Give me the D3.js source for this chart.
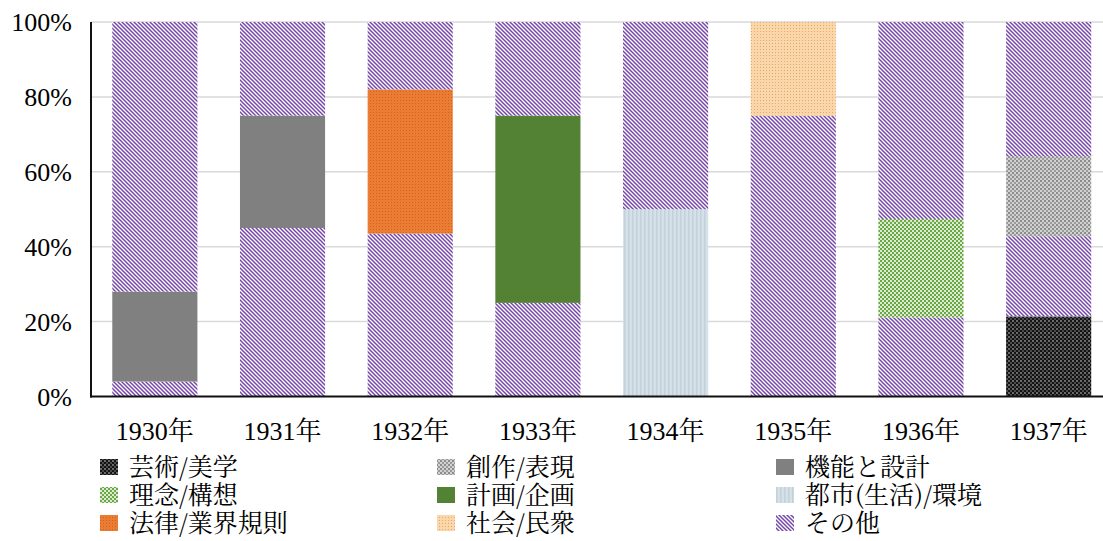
<!DOCTYPE html>
<html>
<head>
<meta charset="utf-8">
<script src="https://cdn.jsdelivr.net/npm/d3@7"></script>
</head>
<body style="margin:0">
<svg id="chart" width="1103" height="541"></svg>
<script>
// Years on the category axis
const years = ["1930年", "1931年", "1932年", "1933年", "1934年", "1935年", "1936年", "1937年"];

// Share of each theme per year (%), in stacking order (bottom to top)
const art      = [0, 0, 0, 0, 0, 0, 0, 21.4];      // 芸術/美学
const urban    = [0, 0, 0, 0, 50, 0, 0, 0];        // 都市(生活)/環境
const otherLow = [4, 45, 43.5, 25, 0, 75, 21.1, 21.4]; // その他 (lower part)
const creation = [0, 0, 0, 0, 0, 0, 0, 21.4];      // 創作/表現
const func     = [24, 30, 0, 0, 0, 0, 0, 0];       // 機能と設計
const idea     = [0, 0, 0, 0, 0, 0, 26.3, 0];      // 理念/構想
const plan     = [0, 0, 0, 50, 0, 0, 0, 0];        // 計画/企画
const law      = [0, 0, 38.5, 0, 0, 0, 0, 0];      // 法律/業界規則
const society  = [0, 0, 0, 0, 0, 25, 0, 0];        // 社会/民衆
const otherHigh = [72, 25, 18, 25, 50, 0, 52.6, 35.8]; // その他 (upper part)

// Y axis tick values and labels
const yTicks = [0, 20, 40, 60, 80, 100];
const yTickLabels = ["0%", "20%", "40%", "60%", "80%", "100%"];

// Legend entries (row-major, three columns)
const legendLabels = ["芸術/美学", "創作/表現", "機能と設計",
                      "理念/構想", "計画/企画", "都市(生活)/環境",
                      "法律/業界規則", "社会/民衆", "その他"];
const legendKeys = ["art", "creation", "func", "idea", "plan", "urban", "law", "society", "other"];

const seriesData = { art, urban, otherLow, creation, func, idea, plan, law, society, otherHigh };
const stackKeys = ["art", "urban", "otherLow", "creation", "func", "idea", "plan", "law", "society", "otherHigh"];
const fillKey = k => (k === "otherLow" || k === "otherHigh") ? "other" : k;

const rows = years.map((y, i) => {
  const r = { year: y };
  stackKeys.forEach(k => r[k] = seriesData[k][i]);
  return r;
});

const svg = d3.select("#chart");
const defs = svg.append("defs");

// ---- fill patterns ----
function tile(id, size, bg) {
  const p = defs.append("pattern").attr("id", id)
    .attr("patternUnits", "userSpaceOnUse").attr("width", size).attr("height", size);
  if (bg) p.append("rect").attr("width", size).attr("height", size).attr("fill", bg);
  return p;
}
// その他: purple downward diagonal stripes
{
  const p = tile("p-other", 4, "#ffffff");
  p.append("path").attr("d", "M-1,-1 L5,5 M-1,3 L1,5 M3,-1 L5,1")
    .attr("stroke", "#7446a8").attr("stroke-width", 1.5).attr("fill", "none");
}
// 芸術/美学: dark checker
{
  const p = tile("p-art", 4, "#141414");
  p.append("rect").attr("x", 0).attr("y", 0).attr("width", 2).attr("height", 2).attr("fill", "#6a6a6a");
  p.append("rect").attr("x", 2).attr("y", 2).attr("width", 2).attr("height", 2).attr("fill", "#4a4a4a");
}
// 創作/表現: light grey checker
{
  const p = tile("p-creation", 4, "#d2d2d2");
  p.append("rect").attr("x", 0).attr("y", 0).attr("width", 2).attr("height", 2).attr("fill", "#8c8c8c");
  p.append("rect").attr("x", 2).attr("y", 2).attr("width", 2).attr("height", 2).attr("fill", "#9a9a9a");
}
// 理念/構想: green checker
{
  const p = tile("p-idea", 4, "#dcebd2");
  p.append("rect").attr("x", 0).attr("y", 0).attr("width", 2).attr("height", 2).attr("fill", "#6aa843");
  p.append("rect").attr("x", 2).attr("y", 2).attr("width", 2).attr("height", 2).attr("fill", "#6aa843");
}
// 都市(生活)/環境: pale blue with vertical stripes
{
  const p = tile("p-urban", 4, "#d6e0e7");
  p.append("rect").attr("x", 0).attr("y", 0).attr("width", 1.5).attr("height", 4).attr("fill", "#c3d1db");
}
// 法律/業界規則: orange with fine dots
{
  const p = tile("p-law", 3, "#ec7c32");
  p.append("rect").attr("x", 1).attr("y", 1).attr("width", 1).attr("height", 1).attr("fill", "#c9632a");
}
// 社会/民衆: peach with dots
{
  const p = tile("p-society", 3, "#fad6ab");
  p.append("rect").attr("x", 1).attr("y", 1).attr("width", 1).attr("height", 1).attr("fill", "#eaa866");
}

const fills = {
  art: "url(#p-art)",
  creation: "url(#p-creation)",
  func: "#808080",
  idea: "url(#p-idea)",
  plan: "#548235",
  urban: "url(#p-urban)",
  law: "url(#p-law)",
  society: "url(#p-society)",
  other: "url(#p-other)"
};

// ---- scales ----
const x = d3.scaleBand().domain(years).range([91, 1112.5])
  .paddingInner(1 / 3).paddingOuter(1 / 6);
const y = d3.scaleLinear().domain([0, 100]).range([396.5, 22]);

// gridlines
svg.append("g").selectAll("line").data(yTicks.filter(t => t > 0)).join("line")
  .attr("x1", 91).attr("x2", 1103)
  .attr("y1", d => y(d)).attr("y2", d => y(d))
  .attr("stroke", "#d9d9d9").attr("stroke-width", 1.5);

// stacked bars
const stacked = d3.stack().keys(stackKeys)(rows);
svg.append("g").selectAll("g").data(stacked).join("g")
  .attr("fill", s => fills[fillKey(s.key)])
  .selectAll("rect").data(s => s.filter(d => d[1] - d[0] > 0)).join("rect")
  .attr("x", d => x(d.data.year))
  .attr("width", x.bandwidth())
  .attr("y", d => y(d[1]))
  .attr("height", d => y(d[0]) - y(d[1]));

// axis lines
svg.append("line").attr("x1", 91).attr("x2", 91).attr("y1", y(100)).attr("y2", y(0) + 1)
  .attr("stroke", "#111").attr("stroke-width", 2);
svg.append("line").attr("x1", 90).attr("x2", 1103).attr("y1", y(0)).attr("y2", y(0))
  .attr("stroke", "#111").attr("stroke-width", 2);

// legend swatches
const colX = [100, 437, 776];
const rowY = [467, 495, 523];
svg.append("g").selectAll("rect").data(legendLabels).join("rect")
  .attr("x", (d, i) => colX[i % 3]).attr("y", (d, i) => rowY[Math.floor(i / 3)] - 8)
  .attr("width", 18).attr("height", 16)
  .attr("fill", (d, i) => fills[legendKeys[i]]);

// ---- texts (placed directly in the svg) ----
// y labels
svg.selectAll("text.ylab").data(yTicks).join("text")
  .attr("class", "ylab")
  .attr("x", 72).attr("y", d => y(d) + 9)
  .attr("text-anchor", "end")
  .attr("font-size", 26)
  .style("font-family", '"Liberation Serif"')
  .text((d, i) => yTickLabels[i]);

// x labels: digits in the Latin serif, the 年 suffix in the CJK serif
const xl = svg.selectAll("text.xlab").data(years).join("text")
  .attr("class", "xlab")
  .attr("x", d => x(d) + x.bandwidth() / 2).attr("y", 440)
  .attr("text-anchor", "middle")
  .attr("font-size", 26)
  .style("font-family", '"Liberation Serif"');
xl.append("tspan").text(d => d.replace(/[^0-9]/g, ""));
xl.append("tspan").style("font-family", '"Noto Serif CJK JP"').text(d => d.replace(/[0-9]/g, ""));

// legend labels
svg.selectAll("text.leg").data(legendLabels).join("text")
  .attr("class", "leg")
  .attr("x", (d, i) => colX[i % 3] + 29)
  .attr("y", (d, i) => rowY[Math.floor(i / 3)] + 9)
  .attr("font-size", 25)
  .style("font-family", '"Noto Serif CJK JP"')
  .text(d => d);
</script>
</body>
</html>
